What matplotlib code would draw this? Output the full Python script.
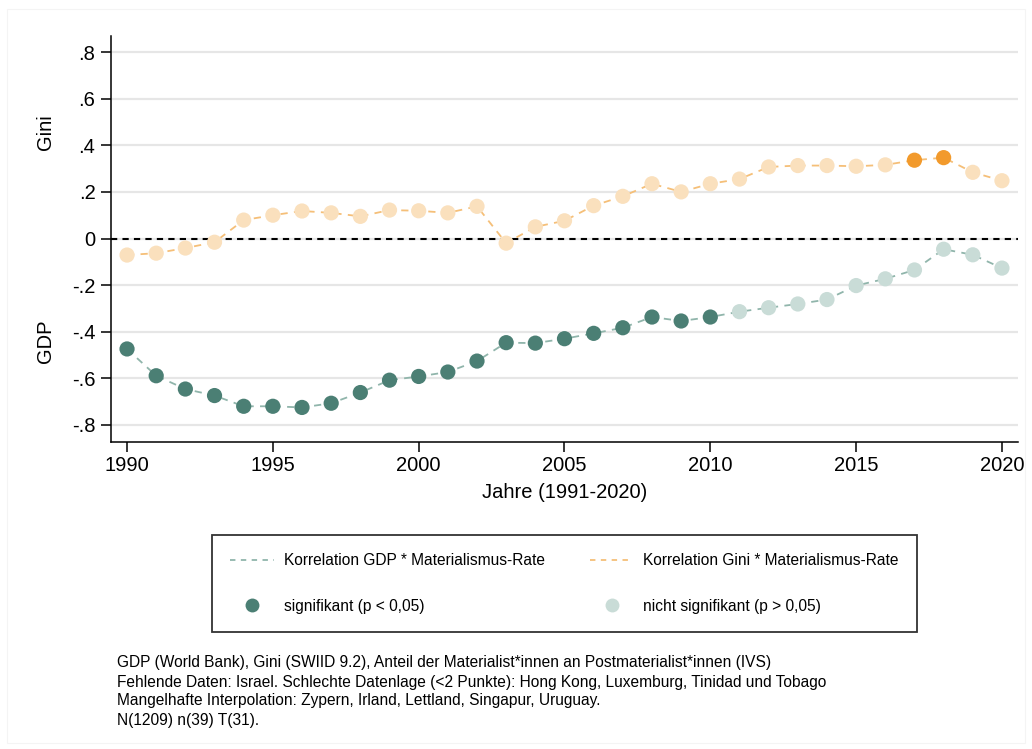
import matplotlib
matplotlib.use("Agg")
import matplotlib.pyplot as plt
from matplotlib.lines import Line2D
from matplotlib.patches import Rectangle
import numpy as np

plt.rcParams['font.family'] = ['Liberation Sans', 'DejaVu Sans']

years = list(range(1990, 2021))

gdp = [-0.474, -0.589, -0.646, -0.674, -0.720, -0.720, -0.725, -0.707, -0.661, -0.608,
       -0.592, -0.573, -0.526, -0.447, -0.449, -0.430, -0.407, -0.383, -0.337, -0.354,
       -0.337, -0.314, -0.297, -0.281, -0.262, -0.202, -0.173, -0.135, -0.046, -0.070,
       -0.127]
gdp_sig = [True] * 21 + [False] * 10

gini = [-0.071, -0.063, -0.041, -0.016, 0.079, 0.100, 0.118, 0.110, 0.095, 0.122,
        0.119, 0.110, 0.138, -0.020, 0.050, 0.076, 0.141, 0.181, 0.235, 0.200,
        0.235, 0.255, 0.307, 0.313, 0.313, 0.310, 0.316, 0.336, 0.347, 0.284,
        0.248]
gini_sig = [False] * 27 + [True, True, False, False]

yticks = [0.8, 0.6, 0.4, 0.2, 0.0, -0.2, -0.4, -0.6, -0.8]
ytick_labels = ['.8', '.6', '.4', '.2', '0', '-.2', '-.4', '-.6', '-.8']
xticks = [1990, 1995, 2000, 2005, 2010, 2015, 2020]

notes = ["GDP (World Bank), Gini (SWIID 9.2), Anteil der Materialist*innen an Postmaterialist*innen (IVS)",
         "Fehlende Daten: Israel. Schlechte Datenlage (<2 Punkte): Hong Kong, Luxemburg, Tinidad und Tobago",
         "Mangelhafte Interpolation: Zypern, Irland, Lettland, Singapur, Uruguay.",
         "N(1209) n(39) T(31)."]

GDP_DARK = '#4b7f74'
GDP_LIGHT = '#c9dcd7'
GDP_LINE = '#90b5ab'
GINI_DARK = '#f29a2c'
GINI_LIGHT = '#fae0bd'
GINI_LINE = '#f5bf78'

W, H = 1032, 749
fig = plt.figure(figsize=(W / 100, H / 100), dpi=100)
fig.patches.append(Rectangle((7 / W, 6 / H), 1 - 14 / W, 1 - 15 / H, transform=fig.transFigure,
                             fill=False, edgecolor='#f4f4f4', linewidth=0.8))

ax = fig.add_axes([110.7 / W, 1 - 441.7 / H, (1018 - 110.7) / W, (441.7 - 36) / H])

for y in yticks:
    ax.axhline(y, color='#e6e6e6', linewidth=1.6, zorder=0)
ax.axhline(0, color='black', linestyle=(0, (3, 2.5)), linewidth=1.5, zorder=1)

yrs = np.array(years)
g = np.array(gdp)
gs = np.array(gdp_sig)
gi = np.array(gini)
gis = np.array(gini_sig)

ax.plot(yrs, g, color=GDP_LINE, linestyle=(0, (4, 3.5)), linewidth=1.3, zorder=2)
ax.plot(yrs, gi, color=GINI_LINE, linestyle=(0, (4, 3.5)), linewidth=1.3, zorder=2)
ax.scatter(yrs[gs], g[gs], s=120, color=GDP_DARK, edgecolors='none', zorder=3)
ax.scatter(yrs[~gs], g[~gs], s=120, color=GDP_LIGHT, edgecolors='none', zorder=3)
ax.scatter(yrs[gis], gi[gis], s=120, color=GINI_DARK, edgecolors='none', zorder=3)
ax.scatter(yrs[~gis], gi[~gis], s=120, color=GINI_LIGHT, edgecolors='none', zorder=3)

ax.set_xlim(1989.44, 2020.55)
ax.set_ylim(-0.872, 0.869)
ax.set_yticks(yticks)
ax.set_yticklabels(ytick_labels)
ax.set_xticks(xticks)
ax.tick_params(axis='both', labelsize=14.5, length=7, width=1.1, color='black')
ax.tick_params(axis='y', pad=4)
ax.tick_params(axis='x', pad=3)
for side in ['top', 'right']:
    ax.spines[side].set_visible(False)
for side in ['left', 'bottom']:
    ax.spines[side].set_linewidth(1.1)
ax.set_xlabel('Jahre (1991-2020)', fontsize=14.5, labelpad=6)

fig.text(45 / W, 1 - 132 / H, 'Gini', rotation=90, fontsize=14.5, ha='center', va='center')
fig.text(45 / W, 1 - 341 / H, 'GDP', rotation=90, fontsize=14.5, ha='center', va='center')

handles = [
    Line2D([], [], color=GDP_LINE, linestyle=(0, (3, 3)), linewidth=1.3),
    Line2D([], [], color='none', marker='o', markersize=10, markerfacecolor=GDP_DARK, markeredgecolor='none'),
    Line2D([], [], color=GINI_LINE, linestyle=(0, (3, 3)), linewidth=1.3),
    Line2D([], [], color='none', marker='o', markersize=10, markerfacecolor=GDP_LIGHT, markeredgecolor='none'),
]
labels = ['Korrelation GDP * Materialismus-Rate', 'signifikant (p < 0,05)',
          'Korrelation Gini * Materialismus-Rate', 'nicht signifikant (p > 0,05)']
leg = fig.legend(handles, labels, ncol=2, loc='center',
                 bbox_to_anchor=(564.5 / W, 1 - 583.5 / H),
                 fontsize=11.2, frameon=True, fancybox=False, edgecolor='black',
                 labelspacing=1.95, handlelength=2.8, handletextpad=0.65,
                 columnspacing=2.9, borderpad=1.15)
leg.get_frame().set_linewidth(1.3)

for i, line in enumerate(notes):
    fig.text(117 / W, 1 - (663 + 19 * i) / H, line, fontsize=11.2, ha='left', va='center')

fig.savefig('out.png', dpi=100)
